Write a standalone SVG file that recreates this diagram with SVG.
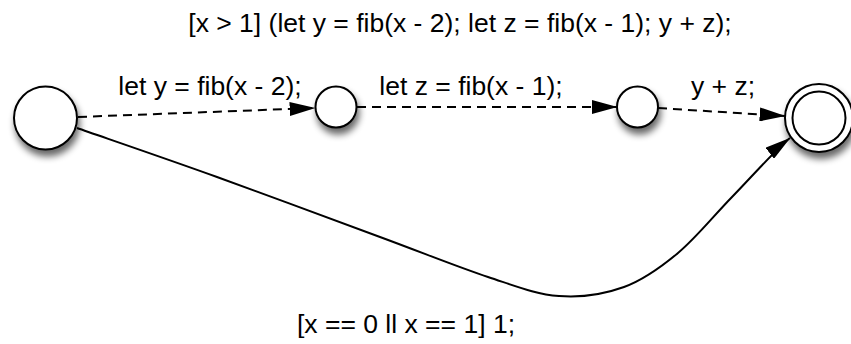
<svg xmlns="http://www.w3.org/2000/svg" width="851" height="344" viewBox="0 0 851 344">
  <defs>
    <style>
      .lbl { font-family: "Liberation Sans", Arial, Helvetica, sans-serif; font-size: 26.5px; fill: #000; text-anchor: middle; }
      .node { fill: #fff; stroke: #000; stroke-width: 2; }
      .edge { fill: none; stroke: #000; stroke-width: 2; }
      .dash { stroke-dasharray: 9 6; }
    </style>
    <filter id="shadow" x="-50%" y="-50%" width="200%" height="200%">
      <feGaussianBlur in="SourceAlpha" stdDeviation="3.5"/>
      <feOffset dx="2" dy="6" result="b"/>
      <feComponentTransfer><feFuncA type="linear" slope="0.6"/></feComponentTransfer>
      <feMerge><feMergeNode/><feMergeNode in="SourceGraphic"/></feMerge>
    </filter>
    <marker id="arrow" markerUnits="userSpaceOnUse" markerWidth="26" markerHeight="14" viewBox="0 0 24 13" refX="23.5" refY="6.5" orient="auto">
      <path d="M0,0 L24,6.5 L0,13 z" fill="#000"/>
    </marker>
  </defs>
  <rect width="851" height="344" fill="#fff"/>

  <text class="lbl" x="460" y="32">[x &gt; 1] (let y = fib(x - 2); let z = fib(x - 1); y + z);</text>

  <g id="connectors">
    <g id="e1">
      <path class="edge dash" d="M 78 117 L 315 108" marker-end="url(#arrow)"/>
      <text class="lbl" x="210" y="95">let y = fib(x - 2);</text>
    </g>
    <g id="e2">
      <path class="edge dash" d="M 357 107 L 617 107" marker-end="url(#arrow)"/>
      <text class="lbl" x="471" y="95">let z = fib(x - 1);</text>
    </g>
    <g id="e3">
      <path class="edge dash" d="M 658 108 L 785 116" marker-end="url(#arrow)"/>
      <text class="lbl" x="723" y="95">y + z;</text>
    </g>
    <g id="e4">
      <path class="edge" d="M 77 128 C 100.3 136.2, 166.5 158.8, 217 177 C 267.5 195.2, 334.8 220.3, 380 237 C 425.2 253.7, 458.2 267.2, 488 277 C 517.8 286.8, 536.3 294.3, 559 296 C 581.7 297.7, 604.2 294.2, 624 287 C 643.8 279.8, 660 268, 678 253 C 696 238, 713.3 216.2, 732 197 C 750.7 177.8, 778 147, 790 138" marker-end="url(#arrow)"/>
      <text class="lbl" x="406" y="333">[x == 0 ll x == 1] 1;</text>
    </g>
  </g>

  <g id="n1" filter="url(#shadow)">
    <circle class="node" cx="45.5" cy="118" r="31.5"/>
  </g>
  <g id="n2" filter="url(#shadow)">
    <circle class="node" cx="336" cy="107" r="20.5"/>
  </g>
  <g id="n3" filter="url(#shadow)">
    <circle class="node" cx="637.5" cy="107" r="20.5"/>
  </g>
  <g id="n4" filter="url(#shadow)">
    <circle class="node" cx="819" cy="118" r="34"/>
    <circle class="node" cx="819" cy="118" r="26.5"/>
  </g>
</svg>
